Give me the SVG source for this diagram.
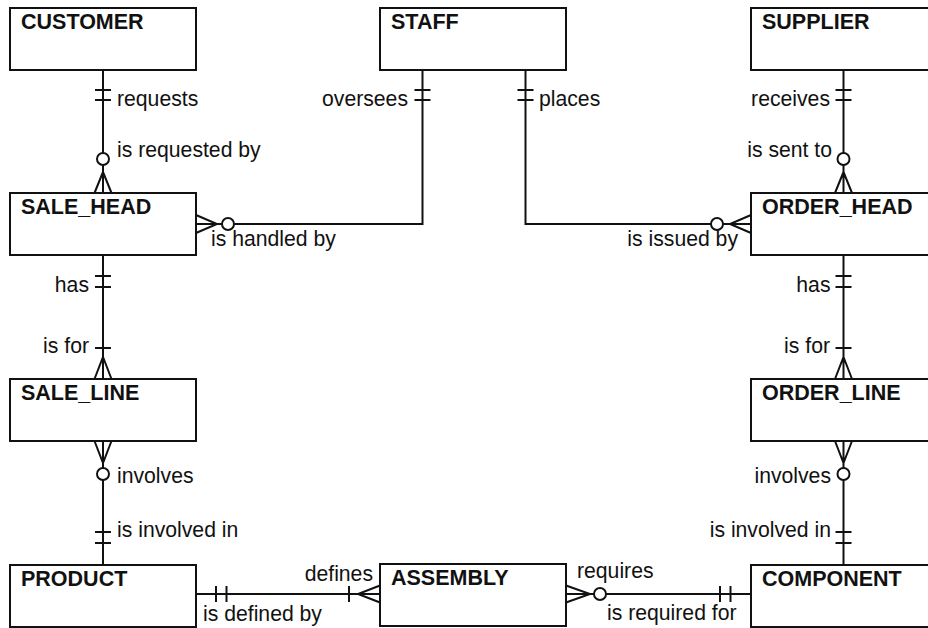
<svg xmlns="http://www.w3.org/2000/svg" width="928" height="628" viewBox="0 0 928 628">
  <style>
    .box { fill: #ffffff; stroke: #111111; stroke-width: 2; }
    .title { font-family: "Liberation Sans", Arial, Helvetica, sans-serif; font-weight: bold; font-size: 21.5px; fill: #111111; }
    .lbl { font-family: "Liberation Sans", Arial, Helvetica, sans-serif; font-size: 21.2px; fill: #111111; }
    .end { text-anchor: end; }
    .ln { fill: none; stroke: #111111; stroke-width: 2; }
    .opt { fill: #ffffff; stroke: #111111; stroke-width: 2; }
  </style>
  <rect width="928" height="628" fill="#ffffff"/>

  <!-- relationship lines with cardinality marks -->
  <g id="connectors">
    <!-- CUSTOMER to SALE_HEAD -->
    <path class="ln" d="M103 70 V193 M95 90 H111 M95 100 H111 M94.5 193 L103 172 L111.5 193"/>
    <circle class="opt" cx="103" cy="159" r="6"/>
    <!-- STAFF to SALE_HEAD -->
    <path class="ln" d="M422.5 70 V224 H196 M414.5 90 H430.5 M414.5 100 H430.5 M196 215 L217 224 L196 233"/>
    <circle class="opt" cx="228" cy="224" r="6"/>
    <!-- STAFF to ORDER_HEAD -->
    <path class="ln" d="M525.5 70 V224 H751 M517.5 90 H533.5 M517.5 100 H533.5 M751 215 L730 224 L751 233"/>
    <circle class="opt" cx="717" cy="224" r="6"/>
    <!-- SUPPLIER to ORDER_HEAD -->
    <path class="ln" d="M843.5 70 V193 M835.5 90 H851.5 M835.5 100 H851.5 M835 193 L843.5 172 L852 193"/>
    <circle class="opt" cx="843.5" cy="159" r="6"/>
    <!-- SALE_HEAD to SALE_LINE -->
    <path class="ln" d="M103 255 V379 M95 276 H111 M95 287 H111 M95 348 H111 M94.5 379 L103 357 L111.5 379"/>
    <!-- ORDER_HEAD to ORDER_LINE -->
    <path class="ln" d="M843.5 255 V379 M835.5 276 H851.5 M835.5 287 H851.5 M835.5 348 H851.5 M835 379 L843.5 357 L852 379"/>
    <!-- SALE_LINE to PRODUCT -->
    <path class="ln" d="M103 441 V565 M94.5 441 L103 463 L111.5 441 M95 532 H111 M95 543 H111"/>
    <circle class="opt" cx="103" cy="474" r="6"/>
    <!-- ORDER_LINE to COMPONENT -->
    <path class="ln" d="M843.5 441 V565 M835 441 L843.5 463 L852 441 M835.5 532 H851.5 M835.5 543 H851.5"/>
    <circle class="opt" cx="843.5" cy="474" r="6"/>
    <!-- PRODUCT to ASSEMBLY -->
    <path class="ln" d="M196 594 H380 M216 586 V602 M226.5 586 V602 M349 586 V602 M380 585.5 L358 594 L380 602.5"/>
    <!-- ASSEMBLY to COMPONENT -->
    <path class="ln" d="M566 594 H751 M720 586 V602 M730.5 586 V602 M566 585.5 L590 594 L566 602.5"/>
    <circle class="opt" cx="600" cy="594" r="6"/>

    <!-- role labels -->
    <text class="lbl" x="117" y="106">requests</text>
    <text class="lbl" x="117" y="157">is requested by</text>
    <text class="lbl end" x="408" y="106">oversees</text>
    <text class="lbl" x="539" y="106">places</text>
    <text class="lbl end" x="830" y="106">receives</text>
    <text class="lbl end" x="832" y="157">is sent to</text>
    <text class="lbl" x="211" y="246">is handled by</text>
    <text class="lbl end" x="738" y="246">is issued by</text>
    <text class="lbl end" x="89" y="292">has</text>
    <text class="lbl end" x="89" y="353">is for</text>
    <text class="lbl end" x="830.5" y="292">has</text>
    <text class="lbl end" x="830" y="353">is for</text>
    <text class="lbl" x="117" y="483">involves</text>
    <text class="lbl" x="117" y="537">is involved in</text>
    <text class="lbl end" x="831" y="483">involves</text>
    <text class="lbl end" x="831" y="537">is involved in</text>
    <text class="lbl end" x="373" y="581">defines</text>
    <text class="lbl" x="203" y="621">is defined by</text>
    <text class="lbl" x="577" y="578">requires</text>
    <text class="lbl" x="607" y="620">is required for</text>
  </g>

  <!-- entities -->
  <g id="customer">
    <rect class="box" x="10" y="8" width="186" height="62"/>
    <text class="title" x="21" y="29">CUSTOMER</text>
  </g>
  <g id="staff">
    <rect class="box" x="380" y="8" width="186" height="62"/>
    <text class="title" x="391" y="29">STAFF</text>
  </g>
  <g id="supplier">
    <rect class="box" x="751" y="8" width="186" height="62"/>
    <text class="title" x="762" y="29">SUPPLIER</text>
  </g>
  <g id="sale_head">
    <rect class="box" x="10" y="193" width="186" height="62"/>
    <text class="title" x="21" y="214">SALE_HEAD</text>
  </g>
  <g id="order_head">
    <rect class="box" x="751" y="193" width="186" height="62"/>
    <text class="title" x="762" y="214">ORDER_HEAD</text>
  </g>
  <g id="sale_line">
    <rect class="box" x="10" y="379" width="186" height="62"/>
    <text class="title" x="21" y="400">SALE_LINE</text>
  </g>
  <g id="order_line">
    <rect class="box" x="751" y="379" width="186" height="62"/>
    <text class="title" x="762" y="400">ORDER_LINE</text>
  </g>
  <g id="product">
    <rect class="box" x="10" y="565" width="186" height="62"/>
    <text class="title" x="21" y="586">PRODUCT</text>
  </g>
  <g id="assembly">
    <rect class="box" x="380" y="564" width="186" height="62"/>
    <text class="title" x="391" y="585">ASSEMBLY</text>
  </g>
  <g id="component">
    <rect class="box" x="751" y="565" width="186" height="62"/>
    <text class="title" x="762" y="586">COMPONENT</text>
  </g>
</svg>
